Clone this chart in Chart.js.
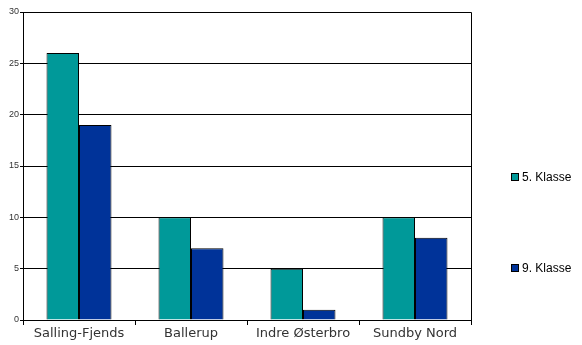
<!DOCTYPE html>
<html>
<head>
<meta charset="utf-8">
<script src="https://cdn.jsdelivr.net/npm/chart.js@4"></script>
<style>
  body { margin: 0; background: #fff; }
  #wrap { width: 582px; height: 345px; position: relative; }
</style>
</head>
<body>
<div id="wrap"><canvas id="myChart"></canvas></div>
<script>
const categories = ['Salling-Fjends', 'Ballerup', 'Indre Østerbro', 'Sundby Nord'];
const klasse5 = [26, 10, 5, 10];
const klasse9 = [19, 7, 1, 8];
const seriesNames = ['5. Klasse', '9. Klasse'];
const seriesColors = ['#009999', '#003399'];

// frame around the plot + legend placed like the original
const framePlugin = {
    id: 'frame',
    afterDraw (chart) {
        const ctx = chart.ctx;
        const a = chart.chartArea;
        ctx.save();
        ctx.strokeStyle = '#000';
        ctx.lineWidth = 1;
        ctx.beginPath();
        ctx.moveTo(a.left, a.top + 0.5);
        ctx.lineTo(Math.round(a.right) + 0.5, a.top + 0.5);
        ctx.lineTo(Math.round(a.right) + 0.5, a.bottom);
        ctx.stroke();

        const legendY = [177, 268];
        ctx.font = '12px "Liberation Sans", Arial, sans-serif';
        ctx.textBaseline = 'middle';
        seriesNames.forEach((name, i) => {
            ctx.fillStyle = seriesColors[i];
            ctx.fillRect(511, legendY[i] - 4, 8, 8);
            ctx.strokeStyle = '#000';
            ctx.strokeRect(511.5, legendY[i] - 3.5, 7, 7);
            ctx.fillStyle = '#000';
            ctx.fillText(name, 522, legendY[i] + 1);
        });
        ctx.restore();
    }
};

const data = {
    labels: categories,
    datasets: [{
        label: seriesNames[0],
        data: klasse5,
        backgroundColor: seriesColors[0],
        borderColor: '#000',
        borderWidth: 1,
        borderSkipped: 'bottom'
    }, {
        label: seriesNames[1],
        data: klasse9,
        backgroundColor: seriesColors[1],
        borderColor: '#000',
        borderWidth: 1,
        borderSkipped: 'bottom'
    }]
};

const config = {
    type: 'bar',
    data,
    plugins: [framePlugin],
    options: {
        responsive: true,
        maintainAspectRatio: false,
        animation: false,
        layout: { padding: { top: 12, right: 111, left: 0, bottom: 0 } },
        plugins: {
            legend: { display: false },
            tooltip: { enabled: false }
        },
        datasets: {
            bar: { categoryPercentage: 0.58, barPercentage: 1 }
        },
        scales: {
            x: {
                grid: {
                    offset: true,
                    drawOnChartArea: false,
                    drawTicks: true,
                    tickLength: 5,
                    color: '#000'
                },
                border: { color: '#000', width: 1 },
                ticks: {
                    color: '#333',
                    font: { family: '"DejaVu Sans", Verdana, sans-serif', size: 13 },
                    padding: 1,
                    maxRotation: 0
                },
                afterFit (scale) { scale.height = 25; }
            },
            y: {
                min: 0,
                max: 30,
                ticks: {
                    stepSize: 5,
                    color: '#333',
                    font: { family: '"Liberation Sans", Arial, sans-serif', size: 9 },
                    padding: 1
                },
                grid: {
                    color: '#000',
                    tickLength: 3,
                    drawTicks: true
                },
                border: { color: '#000', width: 1 },
                afterFit (scale) { scale.width = 23; }
            }
        }
    }
};

const myChart = new Chart(document.getElementById('myChart'), config);
</script>
</body>
</html>
